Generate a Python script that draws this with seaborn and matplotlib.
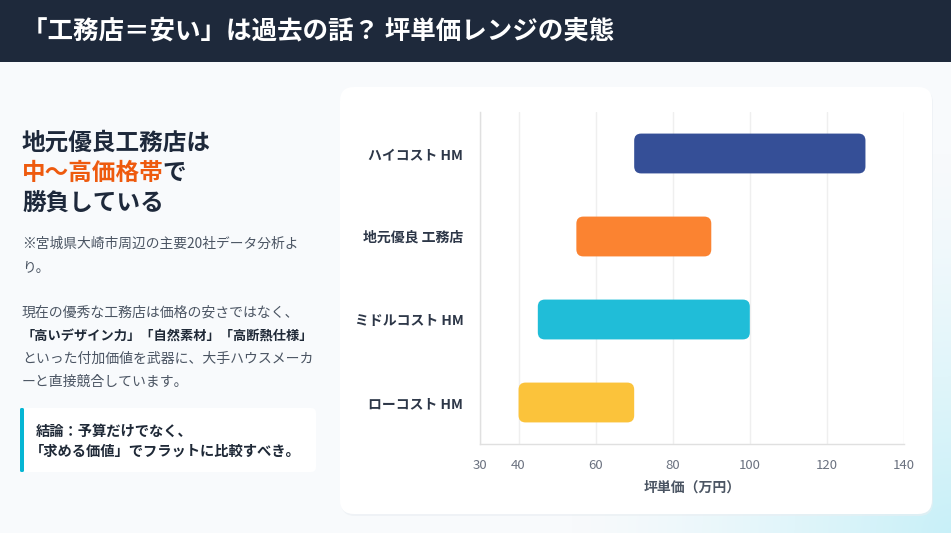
import numpy as np
import pandas as pd
import seaborn as sns
import matplotlib.pyplot as plt
from matplotlib.patches import FancyBboxPatch, Rectangle
from matplotlib.transforms import Affine2D

# ---------------- data ----------------
categories = ["ハイコスト HM", "地元優良 工務店", "ミドルコスト HM", "ローコスト HM"]
low_values = [70, 55, 45, 40]
high_values = [130, 90, 100, 70]
bar_colors = ["#354f97", "#fb8331", "#20bdd8", "#fbc33b"]
x_ticks = [30, 40, 60, 80, 100, 120, 140]
x_label = "坪単価（万円）"
title = "「工務店＝安い」は過去の話？ 坪単価レンジの実態"

sns.set_theme(style="white")
plt.rcParams['font.family'] = ['Noto Sans CJK JP', 'DejaVu Sans']

W, H = 951, 533
fig = plt.figure(figsize=(W / 100, H / 100), dpi=100)
fig.patch.set_facecolor('#f8fafc')
# pixel transform (origin top-left)
T = Affine2D().scale(1 / W, -1 / H).translate(0, 1) + fig.transFigure

# background gradient (cyan tint bottom-right)
bg = fig.add_axes([0, 0, 1, 1], zorder=-10)
bg.set_axis_off()
yy, xx = np.mgrid[0:H, 0:W]
d = np.sqrt((xx - W) ** 2 + (yy - H) ** 2)
wgt = np.clip(1 - d / 380, 0, 1) ** 1.3
base = np.array([0xf8, 0xfa, 0xfc]) / 255
tint = np.array([0xc8, 0xf0, 0xf8]) / 255
img = base[None, None, :] * (1 - wgt[..., None]) + tint[None, None, :] * wgt[..., None]
bg.imshow(img, extent=[0, 1, 0, 1], aspect='auto', origin='upper')
bg.set_xlim(0, 1); bg.set_ylim(0, 1)

# header
fig.add_artist(Rectangle((0, 0), W, 62, transform=T, facecolor='#1e293b', edgecolor='none', zorder=1))
fig.text(22, 31, title, transform=T, color='white', fontsize=18.4, fontweight='bold',
         va='center', ha='left', zorder=2)

# card
fig.add_artist(FancyBboxPatch((341, 89), 592, 427, boxstyle="round,pad=0,rounding_size=14",
                              transform=T, facecolor='#e9eef2', edgecolor='none', alpha=0.6, zorder=0))
fig.add_artist(FancyBboxPatch((340, 87), 592, 427, boxstyle="round,pad=0,rounding_size=14",
                              transform=T, facecolor='white', edgecolor='none', zorder=0.5))

# left panel text
dark = '#1e293b'
fig.text(22, 143, "地元優良工務店は", transform=T, fontsize=17, fontweight='bold', color=dark, va='center')
fig.text(22, 173, "中〜高価格帯", transform=T, fontsize=17, fontweight='bold', color='#ee5a0e', va='center')
fig.text(22 + 6 * 23.4, 173, "で", transform=T, fontsize=17, fontweight='bold', color=dark, va='center')
fig.text(22, 203, "勝負している", transform=T, fontsize=17, fontweight='bold', color=dark, va='center')

gray = '#4b5563'
fig.text(22, 244, "※宮城県大崎市周辺の主要20社データ分析よ", transform=T, fontsize=9.9, color=gray, va='center')
fig.text(22, 268, "り。", transform=T, fontsize=9.9, color=gray, va='center')
fig.text(22, 313, "現在の優秀な工務店は価格の安さではなく、", transform=T, fontsize=10, color=gray, va='center')
fig.text(22, 336, "「高いデザイン力」「自然素材」「高断熱仕様」", transform=T, fontsize=9.5, color='#1f2937',
         fontweight='bold', va='center')
fig.text(22, 359, "といった付加価値を武器に、大手ハウスメーカ", transform=T, fontsize=10, color=gray, va='center')
fig.text(22, 382, "ーと直接競合しています。", transform=T, fontsize=10, color=gray, va='center')

# callout box
fig.add_artist(FancyBboxPatch((20, 408), 296, 64, boxstyle="round,pad=0,rounding_size=5",
                              transform=T, facecolor='white', edgecolor='none', zorder=1))
fig.add_artist(FancyBboxPatch((20, 408), 4, 64, boxstyle="round,pad=0,rounding_size=1.5",
                              transform=T, facecolor='#06b6d4', edgecolor='none', zorder=2))
fig.text(36, 432, "結論：予算だけでなく、", transform=T, fontsize=10.3, fontweight='bold', color='#1f2937',
         va='center', zorder=3)
fig.text(30, 452, "「求める価値」でフラットに比較すべき。", transform=T, fontsize=10.3, fontweight='bold',
         color='#1f2937', va='center', zorder=3)

# chart axes
ax_l, ax_r, ax_t, ax_b = 480, 904, 112, 444
ax = fig.add_axes([ax_l / W, (H - ax_b) / H, (ax_r - ax_l) / W, (ax_b - ax_t) / H], zorder=2)
ax.patch.set_alpha(0)

df = pd.DataFrame({"cat": categories,
                   "low": low_values,
                   "span": np.array(high_values) - np.array(low_values)})
sns.barplot(data=df, y="cat", x="span", hue="cat", palette=bar_colors, legend=False,
            ax=ax, width=0.48, order=categories, hue_order=categories, saturation=1)

ax.set_xlim(30, 140)
ax.set_ylim(3.5, -0.5)

# convert bars into floating rounded bars starting at low value
x_per_px = (140 - 30) / (ax_r - ax_l)
y_per_px = 4 / (ax_b - ax_t)
radius_px = 7
for p in list(ax.patches):
    yc = p.get_y() + p.get_height() / 2
    i = int(round(yc))
    fb = FancyBboxPatch((df["low"][i], p.get_y()), p.get_width(), p.get_height(),
                        boxstyle=f"round,pad=0,rounding_size={radius_px * x_per_px}",
                        mutation_aspect=y_per_px / x_per_px,
                        facecolor=p.get_facecolor(), edgecolor='none', zorder=3)
    p.remove()
    ax.add_patch(fb)

ax.set_xticks(x_ticks)
ax.xaxis.grid(True, color='#efefef', linewidth=1)
ax.yaxis.grid(False)
ax.set_axisbelow(True)
for s in ['top', 'right']:
    ax.spines[s].set_visible(False)
for s in ['left', 'bottom']:
    ax.spines[s].set_color('#e0e0e0')
    ax.spines[s].set_linewidth(1)
ax.tick_params(axis='x', length=0, pad=11, labelsize=9.5, labelcolor='#6b7280')
ax.tick_params(axis='y', length=0, pad=12, labelsize=10, labelcolor='#2d3748')
for lab in ax.get_yticklabels():
    lab.set_fontweight('bold')
ax.set_ylabel("")
ax.set_xlabel(x_label, fontsize=10, fontweight='bold', color=gray, labelpad=6)

fig.savefig("out.png", dpi=100, facecolor=fig.get_facecolor())
